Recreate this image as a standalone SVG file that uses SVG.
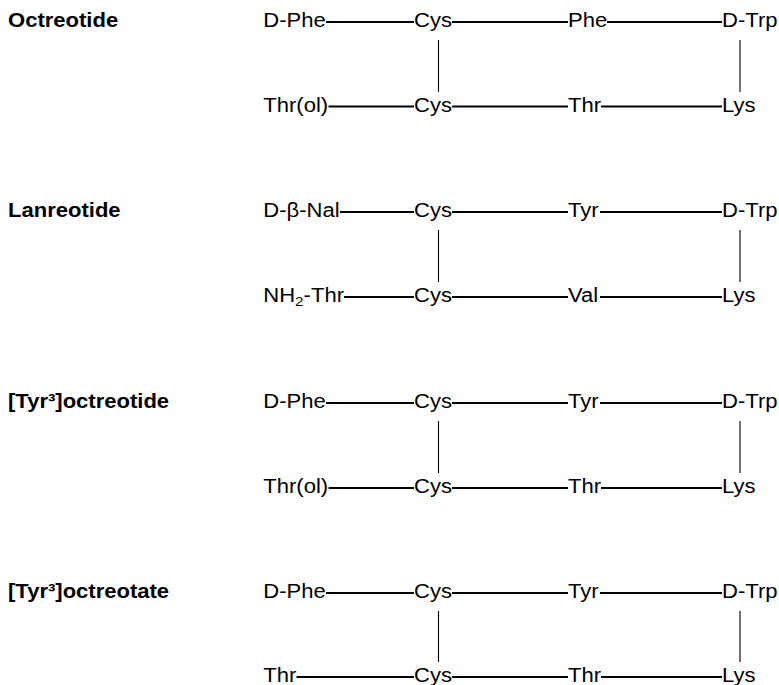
<svg xmlns="http://www.w3.org/2000/svg" width="779" height="685" viewBox="0 0 779 685">
<style>
text{font-family:"Liberation Sans",Arial,sans-serif;font-size:19.5px;fill:#000}
.t{font-weight:bold}
.h{stroke:#000;stroke-width:1.8;fill:none}
.v{stroke:#000;stroke-width:1.1;fill:none}
</style>
<rect width="779" height="685" fill="#fff"/>
<g id="connectors">
<!-- Octreotide -->
<path class="h" d="M326 22H414M452 22H568M607 22H722"/>
<path class="h" d="M328.5 106.5H414M452 106.5H568M601 106.5H722"/>
<path class="v" d="M438.5 40V92M740 40V92"/>
<!-- Lanreotide -->
<path class="h" d="M340 212H414M452 212H568M600 212H722"/>
<path class="h" d="M344 297H414M452 297H568M600 297H722"/>
<path class="v" d="M438.5 230V282M740 230V282"/>
<!-- Tyr3 octreotide -->
<path class="h" d="M326 403H414M452 403H568M600 403H722"/>
<path class="h" d="M328.5 488H414M452 488H568M601 488H722"/>
<path class="v" d="M438.5 421V473M740 421V473"/>
<!-- Tyr3 octreotate -->
<path class="h" d="M326 593H414M452 593H568M600 593H722"/>
<path class="h" d="M296.5 677H414M452 677H568M601 677H722"/>
<path class="v" d="M438.5 611V662M740 611V662"/>
</g>

<g id="title-octreotide" transform="translate(8,27) scale(1.13,1)"><text class="t">Octreotide</text></g>
<g id="oct-dphe" transform="translate(263.3,27) scale(1.13,1)"><text>D-Phe</text></g>
<g id="oct-cys1" transform="translate(414,27) scale(1.13,1)"><text>Cys</text></g>
<g id="oct-phe" transform="translate(568,27) scale(1.13,1)"><text>Phe</text></g>
<g id="oct-dtrp" transform="translate(722,27) scale(1.13,1)"><text>D-Trp</text></g>
<g id="oct-throl" transform="translate(263.3,111.5) scale(1.13,1)"><text>Thr(ol)</text></g>
<g id="oct-cys2" transform="translate(414,111.5) scale(1.13,1)"><text>Cys</text></g>
<g id="oct-thr" transform="translate(568,111.5) scale(1.13,1)"><text>Thr</text></g>
<g id="oct-lys" transform="translate(722,111.5) scale(1.13,1)"><text>Lys</text></g>

<g id="title-lanreotide" transform="translate(8,217) scale(1.13,1)"><text class="t">Lanreotide</text></g>
<g id="lan-dnal" transform="translate(263.3,217) scale(1.13,1)"><text>D-β-Nal</text></g>
<g id="lan-cys1" transform="translate(414,217) scale(1.13,1)"><text>Cys</text></g>
<g id="lan-tyr" transform="translate(568,217) scale(1.13,1)"><text>Tyr</text></g>
<g id="lan-dtrp" transform="translate(722,217) scale(1.13,1)"><text>D-Trp</text></g>
<g id="lan-nh2thr" transform="translate(263.3,302) scale(1.13,1)"><text>NH<tspan font-size="13.5" dy="4">2</tspan><tspan dy="-4">-Thr</tspan></text></g>
<g id="lan-cys2" transform="translate(414,302) scale(1.13,1)"><text>Cys</text></g>
<g id="lan-val" transform="translate(568,302) scale(1.13,1)"><text>Val</text></g>
<g id="lan-lys" transform="translate(722,302) scale(1.13,1)"><text>Lys</text></g>

<g id="title-tyr3-octreotide" transform="translate(8,408) scale(1.13,1)"><text class="t">[Tyr³]octreotide</text></g>
<g id="to-dphe" transform="translate(263.3,408) scale(1.13,1)"><text>D-Phe</text></g>
<g id="to-cys1" transform="translate(414,408) scale(1.13,1)"><text>Cys</text></g>
<g id="to-tyr" transform="translate(568,408) scale(1.13,1)"><text>Tyr</text></g>
<g id="to-dtrp" transform="translate(722,408) scale(1.13,1)"><text>D-Trp</text></g>
<g id="to-throl" transform="translate(263.3,493) scale(1.13,1)"><text>Thr(ol)</text></g>
<g id="to-cys2" transform="translate(414,493) scale(1.13,1)"><text>Cys</text></g>
<g id="to-thr" transform="translate(568,493) scale(1.13,1)"><text>Thr</text></g>
<g id="to-lys" transform="translate(722,493) scale(1.13,1)"><text>Lys</text></g>

<g id="title-tyr3-octreotate" transform="translate(8,598) scale(1.13,1)"><text class="t">[Tyr³]octreotate</text></g>
<g id="ta-dphe" transform="translate(263.3,598) scale(1.13,1)"><text>D-Phe</text></g>
<g id="ta-cys1" transform="translate(414,598) scale(1.13,1)"><text>Cys</text></g>
<g id="ta-tyr" transform="translate(568,598) scale(1.13,1)"><text>Tyr</text></g>
<g id="ta-dtrp" transform="translate(722,598) scale(1.13,1)"><text>D-Trp</text></g>
<g id="ta-thr1" transform="translate(263.3,682) scale(1.13,1)"><text>Thr</text></g>
<g id="ta-cys2" transform="translate(414,682) scale(1.13,1)"><text>Cys</text></g>
<g id="ta-thr2" transform="translate(568,682) scale(1.13,1)"><text>Thr</text></g>
<g id="ta-lys" transform="translate(722,682) scale(1.13,1)"><text>Lys</text></g>
</svg>
